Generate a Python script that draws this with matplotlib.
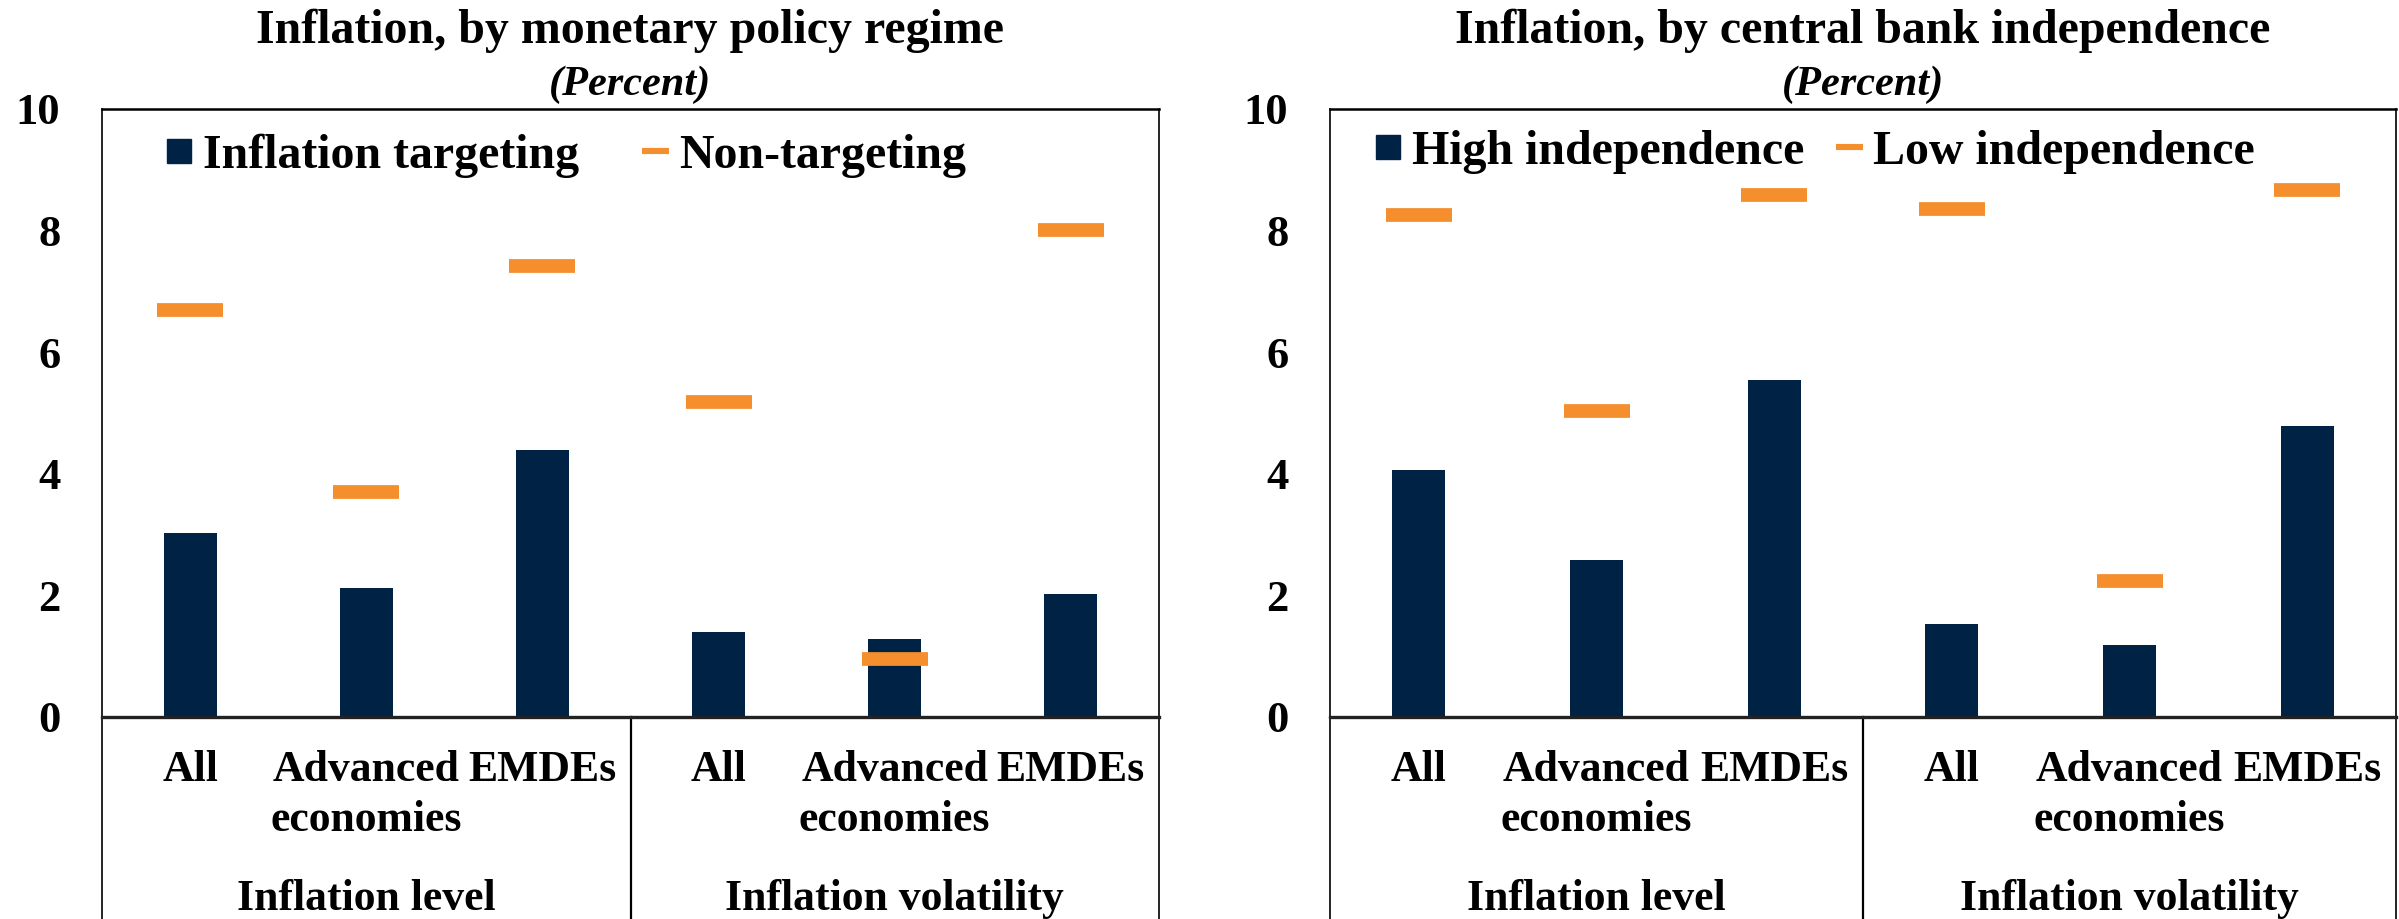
import matplotlib
matplotlib.use("Agg")
import matplotlib.pyplot as plt
from matplotlib.lines import Line2D
from matplotlib.transforms import blended_transform_factory

plt.rcParams['font.family'] = ['Liberation Serif', 'DejaVu Serif']
plt.rcParams['font.weight'] = 'bold'

# ---- data ----
categories = ["All", "Advanced\neconomies", "EMDEs", "All", "Advanced\neconomies", "EMDEs"]
groups = ["Inflation level", "Inflation volatility"]
yticks = [0, 2, 4, 6, 8, 10]

left_title = "Inflation, by monetary policy regime"
left_series = ["Inflation targeting", "Non-targeting"]
inflation_targeting = [3.02, 2.12, 4.39, 1.39, 1.28, 2.03]
non_targeting = [6.70, 3.70, 7.42, 5.18, 0.96, 8.01]

right_title = "Inflation, by central bank independence"
right_series = ["High independence", "Low independence"]
high_independence = [4.06, 2.59, 5.54, 1.53, 1.18, 4.79]
low_independence = [8.26, 5.04, 8.59, 8.36, 2.24, 8.67]

subtitle = "(Percent)"

NAVY = "#002244"
ORANGE = "#F58F2E"

W, H = 2399, 919
fig = plt.figure(figsize=(W / 100, H / 100), dpi=100)

def px_axes(left, right, top, bottom):
    return [left / W, 1 - bottom / H, (right - left) / W, (bottom - top) / H]

def draw_panel(rect, title, names, bars, marks, legend_anchor, colspacing):
    ax = fig.add_axes(rect)
    x = [i + 0.5 for i in range(len(categories))]
    ax.bar(x, bars, width=0.30, color=NAVY, zorder=2)
    ax.plot(x, marks, linestyle="none", marker="_", markersize=47.5,
            markeredgewidth=9.9, color=ORANGE, zorder=3)
    ax.set_xlim(0, 6)
    ax.set_ylim(0, 10)
    ax.set_yticks(yticks)
    ax.set_yticklabels([str(t) for t in yticks], fontsize=32, fontweight="bold")
    ax.set_xticks(x)
    ax.set_xticklabels(categories, fontsize=31.5, fontweight="bold", linespacing=1.32)
    ax.tick_params(axis="both", length=0)
    ax.tick_params(axis="y", pad=30)
    ax.tick_params(axis="x", pad=24)
    for s in ["left", "right"]:
        ax.spines[s].set_linewidth(1.2)
    ax.spines["top"].set_linewidth(1.8)
    ax.spines["bottom"].set_linewidth(2.4)
    ax.spines["bottom"].set_color("#222222")
    trans = blended_transform_factory(ax.transData, ax.transAxes)
    for xv, lw in [(0, 1.2), (3, 1.6), (6, 1.2)]:
        ax.add_line(Line2D([xv, xv], [0, -0.40], transform=trans, color="black",
                           linewidth=lw, clip_on=False))
    for gi, g in enumerate(groups):
        ax.text(1.5 + 3 * gi, -0.317, g, transform=trans, ha="center",
                va="baseline", fontsize=31.5, fontweight="bold")
    ax.text(0.5, 1.1086, title, transform=ax.transAxes, ha="center",
            va="baseline", fontsize=34.5, fontweight="bold")
    ax.text(0.5, 1.023, subtitle, transform=ax.transAxes, ha="center",
            va="baseline", fontsize=30.5, fontweight="bold", style="italic")
    handles = [
        Line2D([], [], linestyle="none", marker="s", markersize=17, color=NAVY),
        Line2D([], [], color=ORANGE, linewidth=4.4, solid_capstyle="butt"),
    ]
    ax.legend(handles, names, loc="center left", bbox_to_anchor=legend_anchor,
              ncol=2, frameon=False, handlelength=0.56,
              handletextpad=0.22, columnspacing=colspacing, borderpad=0,
              borderaxespad=0, prop={"weight": "bold", "size": 34.5})
    return ax

draw_panel(px_axes(102, 1159, 109, 717), left_title, left_series,
           inflation_targeting, non_targeting, (0.0605, 0.9227), 1.3)
draw_panel(px_axes(1330, 2396, 109, 717), right_title, right_series,
           high_independence, low_independence, (0.0422, 0.930), 0.65)

fig.savefig("out.png", dpi=100)
